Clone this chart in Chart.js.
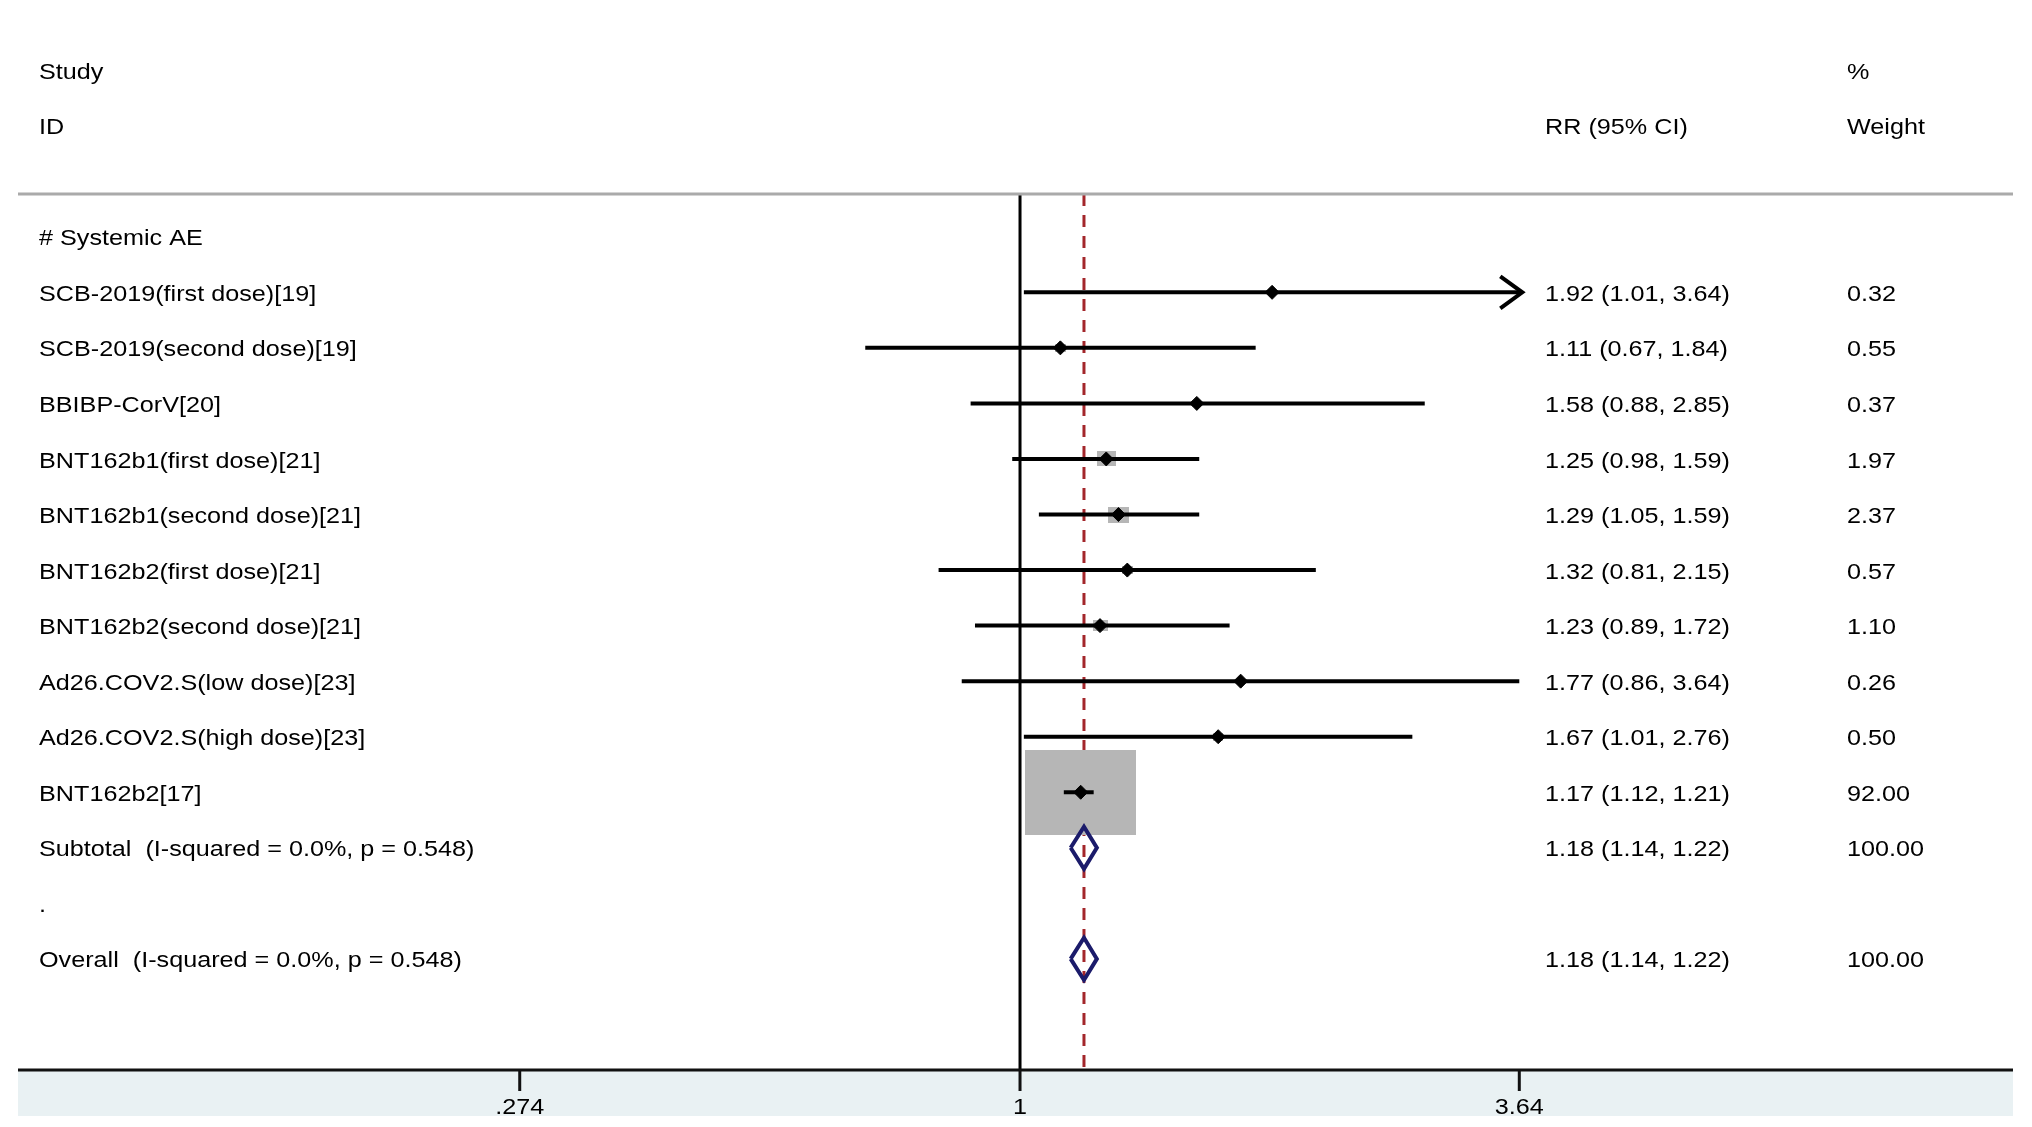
<!DOCTYPE html>
<html>
<head>
<meta charset="utf-8">
<title>Forest plot - Systemic AE</title>
<script src="https://cdn.jsdelivr.net/npm/chart.js@4.4.0/dist/chart.umd.min.js"></script>
<style>
  html, body { margin: 0; padding: 0; background: #ffffff; }
  #wrap { width: 2032px; height: 1127px; }
</style>
</head>
<body>
<div id="wrap"><canvas id="forest" width="2032" height="1127"></canvas></div>
<script>
// rows of the plot, top to bottom
var rowLabels = [
    '# Systemic AE',
    'SCB-2019(first dose)[19]',
    'SCB-2019(second dose)[19]',
    'BBIBP-CorV[20]',
    'BNT162b1(first dose)[21]',
    'BNT162b1(second dose)[21]',
    'BNT162b2(first dose)[21]',
    'BNT162b2(second dose)[21]',
    'Ad26.COV2.S(low dose)[23]',
    'Ad26.COV2.S(high dose)[23]',
    'BNT162b2[17]',
    'Subtotal  (I-squared = 0.0%, p = 0.548)',
    '.',
    'Overall  (I-squared = 0.0%, p = 0.548)'
];

// single studies (rows 1..10)
var studyRows   = [1, 2, 3, 4, 5, 6, 7, 8, 9, 10];
var studyRR     = [1.92, 1.11, 1.58, 1.25, 1.29, 1.32, 1.23, 1.77, 1.67, 1.17];
var studyLo     = [1.01, 0.67, 0.88, 0.98, 1.05, 0.81, 0.89, 0.86, 1.01, 1.12];
var studyHi     = [3.64, 1.84, 2.85, 1.59, 1.59, 2.15, 1.72, 3.64, 2.76, 1.21];
var studyWeight = [0.32, 0.55, 0.37, 1.97, 2.37, 0.57, 1.10, 0.26, 0.50, 92.00];
var studyClipped = [true, false, false, false, false, false, false, false, false, false];

// pooled estimates
var pooledRows   = [11, 13];
var pooledRR     = [1.18, 1.18];
var pooledLo     = [1.14, 1.14];
var pooledHi     = [1.22, 1.22];
var pooledWeight = [100.00, 100.00];

// x axis
var tickValues = [0.274, 1, 3.64];
var tickLabels = ['.274', '1', '3.64'];

var FONT = '22px "Liberation Sans", Arial, sans-serif';
var ESTICA = 1.145;

function escreve(ctx, texto, x, y, alinha) {
    ctx.save();
    ctx.translate(x, y + 2.5);
    ctx.scale(ESTICA, 1);
    ctx.font = FONT;
    ctx.fillStyle = '#000';
    ctx.textAlign = alinha || 'left';
    ctx.textBaseline = 'middle';
    ctx.fillText(texto, 0, 0);
    ctx.restore();
}

function FormatarRR(rr, lo, hi) {
    return rr.toFixed(2) + ' (' + lo.toFixed(2) + ', ' + hi.toFixed(2) + ')';
}

// grey weight boxes, grow with the weight
function CaixaPeso(peso) {
    var f = Math.pow(peso / 92, 0.455);
    var c = document.createElement('canvas');
    c.width = Math.max(1, Math.round(111 * f));
    c.height = Math.max(1, Math.round(85 * f));
    var g = c.getContext('2d');
    g.fillStyle = '#b6b6b6';
    g.fillRect(0, 0, c.width, c.height);
    return c;
}

var yTop = -0.77, yBottom = 15;
var datasets = [];

// study markers (drawn on top)
datasets.push({
    label: 'markers',
    order: 1,
    data: studyRows.map(function (r, i) { return { x: studyRR[i], y: r }; }),
    pointStyle: 'rectRot',
    pointRadius: 7,
    backgroundColor: '#000',
    borderColor: '#000',
    borderWidth: 1,
    showLine: false
});

// confidence intervals
studyRows.forEach(function (r, i) {
    datasets.push({
        label: 'ci' + i,
        order: 2,
        data: [{ x: studyLo[i], y: r }, { x: studyHi[i], y: r }],
        showLine: true,
        borderColor: '#000',
        borderWidth: 4,
        pointRadius: 0
    });
});

// pooled diamonds
pooledRows.forEach(function (r, i) {
    datasets.push({
        label: 'diamond' + i,
        order: 3,
        data: [
            { x: pooledLo[i], y: r },
            { x: pooledRR[i], y: r - 0.38 },
            { x: pooledHi[i], y: r },
            { x: pooledRR[i], y: r + 0.38 },
            { x: pooledLo[i], y: r }
        ],
        showLine: true,
        borderColor: '#1b1b6b',
        borderWidth: 4,
        borderJoinStyle: 'miter',
        pointRadius: 0,
        fill: false
    });
});

// weight boxes
datasets.push({
    label: 'weights',
    order: 4,
    data: studyRows.map(function (r, i) { return { x: studyRR[i], y: r }; }),
    pointStyle: studyWeight.map(CaixaPeso),
    pointRadius: 10,
    showLine: false
});

// overall effect line
datasets.push({
    label: 'overall',
    order: 5,
    data: [{ x: pooledRR[1], y: yTop }, { x: pooledRR[1], y: yBottom }],
    showLine: true,
    borderColor: '#a3262b',
    borderWidth: 3,
    borderDash: [12, 9],
    pointRadius: 0
});

// line of no effect
datasets.push({
    label: 'null',
    order: 6,
    data: [{ x: 1, y: yTop }, { x: 1, y: yBottom }],
    showLine: true,
    borderColor: '#000',
    borderWidth: 3,
    pointRadius: 0
});

var textos = {
    id: 'textos',
    afterDatasetsDraw: function (chart) {
        var ctx = chart.ctx;
        var area = chart.chartArea;
        var xs = chart.scales.x;
        var ys = chart.scales.y;

        // header rule
        ctx.save();
        ctx.strokeStyle = '#aaaaaa';
        ctx.lineWidth = 3;
        ctx.beginPath();
        ctx.moveTo(area.left, area.top);
        ctx.lineTo(area.right, area.top);
        ctx.stroke();

        // axis band, line and ticks
        ctx.fillStyle = '#e9f1f3';
        ctx.fillRect(area.left, area.bottom, area.right - area.left, 46);
        ctx.strokeStyle = '#111';
        ctx.lineWidth = 3;
        ctx.beginPath();
        ctx.moveTo(area.left, area.bottom);
        ctx.lineTo(area.right, area.bottom);
        ctx.stroke();
        tickValues.forEach(function (v) {
            var px = xs.getPixelForValue(v);
            ctx.beginPath();
            ctx.moveTo(px, area.bottom);
            ctx.lineTo(px, area.bottom + 21);
            ctx.stroke();
        });

        // arrow for truncated intervals
        ctx.strokeStyle = '#000';
        ctx.lineWidth = 4;
        ctx.lineJoin = 'miter';
        studyRows.forEach(function (r, i) {
            if (!studyClipped[i]) return;
            var px = xs.getPixelForValue(studyHi[i]) + 3;
            var py = ys.getPixelForValue(r);
            ctx.beginPath();
            ctx.moveTo(px - 22, py - 16);
            ctx.lineTo(px, py);
            ctx.lineTo(px - 22, py + 16);
            ctx.stroke();
        });
        ctx.restore();

        tickValues.forEach(function (v, i) {
            escreve(ctx, tickLabels[i], xs.getPixelForValue(v), area.bottom + 35, 'center');
        });

        var colEsq = 39, colRR = 1545, colPeso = 1847;

        escreve(ctx, 'Study', colEsq, ys.getPixelForValue(-3));
        escreve(ctx, 'ID', colEsq, ys.getPixelForValue(-2));
        escreve(ctx, 'RR (95% CI)', colRR, ys.getPixelForValue(-2));
        escreve(ctx, '%', colPeso, ys.getPixelForValue(-3));
        escreve(ctx, 'Weight', colPeso, ys.getPixelForValue(-2));

        rowLabels.forEach(function (s, r) {
            escreve(ctx, s, colEsq, ys.getPixelForValue(r));
        });

        studyRows.forEach(function (r, i) {
            var py = ys.getPixelForValue(r);
            escreve(ctx, FormatarRR(studyRR[i], studyLo[i], studyHi[i]), colRR, py);
            escreve(ctx, studyWeight[i].toFixed(2), colPeso, py);
        });
        pooledRows.forEach(function (r, i) {
            var py = ys.getPixelForValue(r);
            escreve(ctx, FormatarRR(pooledRR[i], pooledLo[i], pooledHi[i]), colRR, py);
            escreve(ctx, pooledWeight[i].toFixed(2), colPeso, py);
        });
    }
};

new Chart(document.getElementById('forest'), {
    type: 'scatter',
    data: { datasets: datasets },
    options: {
        responsive: false,
        animation: false,
        devicePixelRatio: 1,
        layout: { padding: { left: 18, right: 19, top: 194, bottom: 57 } },
        plugins: { legend: { display: false }, tooltip: { enabled: false } },
        scales: {
            x: {
                type: 'logarithmic',
                min: 0.0748,
                max: 13.06,
                bounds: 'data',
                display: false
            },
            y: {
                type: 'linear',
                min: yTop,
                max: yBottom,
                reverse: true,
                display: false
            }
        }
    },
    plugins: [textos]
});
</script>
</body>
</html>
